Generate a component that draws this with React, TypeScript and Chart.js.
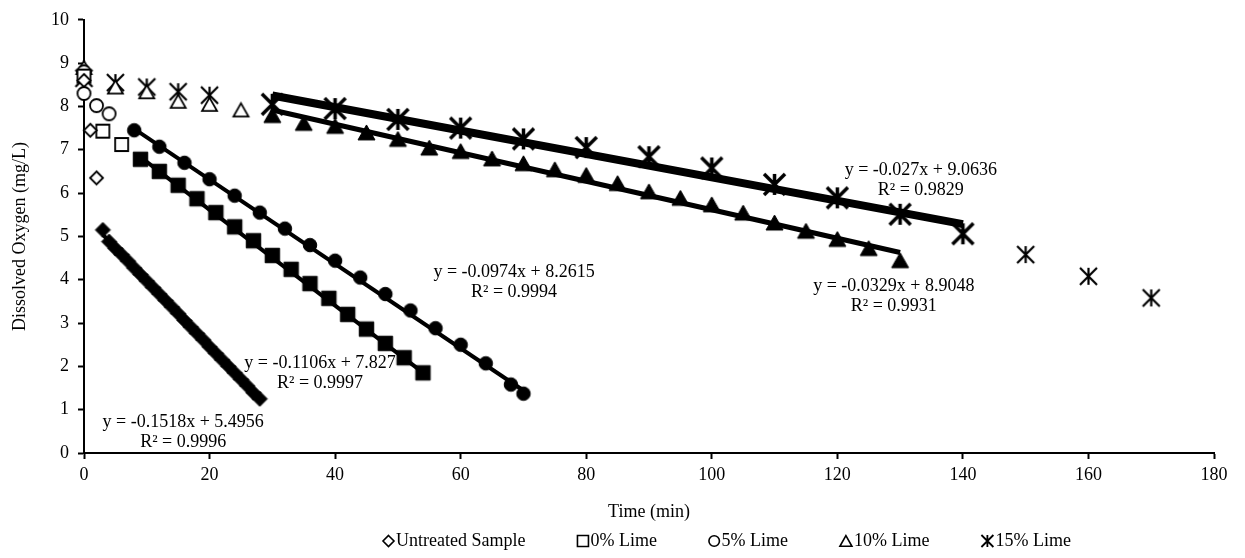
import React, { useEffect, useRef } from 'react';
import { Chart, registerables } from 'chart.js';

Chart.register(...registerables);

// ---------- data ----------
// Early readings (open markers, shown in the legend)
const untreatedOpenX = [0, 1, 2];
const untreatedOpenY = [8.6, 7.45, 6.35];
const lime0OpenX = [0, 3, 6];
const lime0OpenY = [8.7, 7.43, 7.12];
const lime5OpenX = [0, 0, 2, 4];
const lime5OpenY = [8.8, 8.3, 8.02, 7.83];
const lime10OpenX = [0, 5, 10, 15, 20, 25];
const lime10OpenY = [8.9, 8.45, 8.34, 8.12, 8.05, 7.92];
const lime15OpenX = [0, 5, 10, 15, 20, 150, 160, 170];
const lime15OpenY = [8.65, 8.55, 8.45, 8.34, 8.26, 4.58, 4.08, 3.58];

// Linear-decline readings (filled markers, fitted with trendlines)
const untreatedLinX = [3, 4, 5, 6, 7, 8, 9, 10, 11, 12, 13, 14, 15, 16, 17, 18, 19, 20, 21, 22, 23, 24, 25, 26, 27, 28];
const untreatedLinY = [5.15, 4.88, 4.72, 4.58, 4.43, 4.27, 4.12, 3.97, 3.82, 3.67, 3.52, 3.37, 3.22, 3.06, 2.91, 2.76, 2.61, 2.45, 2.3, 2.15, 2.0, 1.85, 1.7, 1.55, 1.39, 1.25];
const lime0LinX = [9, 12, 15, 18, 21, 24, 27, 30, 33, 36, 39, 42, 45, 48, 51, 54];
const lime0LinY = [6.78, 6.5, 6.18, 5.87, 5.55, 5.22, 4.9, 4.56, 4.24, 3.91, 3.57, 3.2, 2.86, 2.53, 2.2, 1.85];
const lime5LinX = [8, 12, 16, 20, 24, 28, 32, 36, 40, 44, 48, 52, 56, 60, 64, 68, 70];
const lime5LinY = [7.45, 7.07, 6.7, 6.32, 5.94, 5.55, 5.18, 4.8, 4.44, 4.05, 3.67, 3.29, 2.88, 2.5, 2.07, 1.58, 1.37];
const lime10LinX = [30, 35, 40, 45, 50, 55, 60, 65, 70, 75, 80, 85, 90, 95, 100, 105, 110, 115, 120, 125, 130];
const lime10LinY = [7.8, 7.62, 7.55, 7.4, 7.25, 7.05, 6.97, 6.8, 6.69, 6.55, 6.42, 6.23, 6.04, 5.89, 5.74, 5.55, 5.32, 5.13, 4.94, 4.73, 4.45];
const lime15LinX = [30, 40, 50, 60, 70, 80, 90, 100, 110, 120, 130, 140];
const lime15LinY = [8.05, 7.95, 7.7, 7.5, 7.25, 7.05, 6.84, 6.58, 6.2, 5.89, 5.51, 5.06];

// Trendline equations as printed on the chart
const trendSlopes = [-0.1518, -0.1106, -0.0974, -0.0329, -0.027];
const trendIntercepts = [5.4956, 7.827, 8.2615, 8.9048, 9.0636];
const trendR2 = ['0.9996', '0.9997', '0.9994', '0.9931', '0.9829'];

const seriesNames = ['Untreated Sample', '0% Lime', '5% Lime', '10% Lime', '15% Lime'];
const xTickStep = 20;
const yTickStep = 1;

// ---------- presentation ----------
const FONT_FAMILY = '"Liberation Serif", "Times New Roman", serif';
const FONT_SIZE = 18;
// where each equation label is anchored (data units)
const eqLabelAnchors = [
  { x: 15.8, y: 0.71 },
  { x: 37.6, y: 2.08 },
  { x: 68.5, y: 4.18 },
  { x: 129.0, y: 3.84 },
  { x: 133.3, y: 6.53 },
];
const trendWidths = [4, 4, 4, 5, 8];

function makeMarker(kind: string, size: number, filled: boolean, lw: number): HTMLCanvasElement {
  const pad = Math.ceil(lw) + 2;
  const dim = Math.ceil(size + pad * 2);
  const c = document.createElement('canvas');
  c.width = dim;
  c.height = dim;
  const ctx = c.getContext('2d') as CanvasRenderingContext2D;
  drawShape(ctx, kind, dim / 2, dim / 2, size, filled, lw);
  return c;
}

function drawShape(ctx: CanvasRenderingContext2D, kind: string, cx: number, cy: number, size: number, filled: boolean, lw: number) {
  const h = size / 2;
  ctx.save();
  ctx.lineWidth = lw;
  ctx.strokeStyle = '#000';
  ctx.fillStyle = filled ? '#000' : '#fff';
  ctx.lineJoin = 'miter';
  ctx.beginPath();
  if (kind === 'diamond') {
    ctx.moveTo(cx, cy - h);
    ctx.lineTo(cx + h, cy);
    ctx.lineTo(cx, cy + h);
    ctx.lineTo(cx - h, cy);
    ctx.closePath();
  } else if (kind === 'square') {
    ctx.rect(cx - h, cy - h, size, size);
  } else if (kind === 'circle') {
    ctx.arc(cx, cy, h, 0, Math.PI * 2);
  } else if (kind === 'triangle') {
    const th = size * 0.88;
    ctx.moveTo(cx, cy - th / 2);
    ctx.lineTo(cx + h, cy + th / 2);
    ctx.lineTo(cx - h, cy + th / 2);
    ctx.closePath();
  } else if (kind === 'asterisk') {
    ctx.moveTo(cx, cy - h);
    ctx.lineTo(cx, cy + h);
    ctx.moveTo(cx - h, cy - h);
    ctx.lineTo(cx + h, cy + h);
    ctx.moveTo(cx + h, cy - h);
    ctx.lineTo(cx - h, cy + h);
    ctx.stroke();
    ctx.restore();
    return;
  }
  ctx.fill();
  ctx.stroke();
  ctx.restore();
}

const kinds = ['diamond', 'square', 'circle', 'triangle', 'asterisk'];

function toPoints(xs: number[], ys: number[]) {
  return xs.map((x, i) => ({ x, y: ys[i] }));
}

export default function App() {
  const canvasRef = useRef<HTMLCanvasElement>(null);

  useEffect(() => {
    const canvas = canvasRef.current;
    if (!canvas) return;

    const openSizes = [13, 13, 13, 15, 17];
    const openLw = [1.8, 1.8, 1.8, 1.8, 2.2];
    const filledSizes = [15, 14.5, 13.5, 17, 21];
    const filledLw = [1, 1, 1, 1, 3.5];

    const openX = [untreatedOpenX, lime0OpenX, lime5OpenX, lime10OpenX, lime15OpenX];
    const openY = [untreatedOpenY, lime0OpenY, lime5OpenY, lime10OpenY, lime15OpenY];
    const linX = [untreatedLinX, lime0LinX, lime5LinX, lime10LinX, lime15LinX];
    const linY = [untreatedLinY, lime0LinY, lime5LinY, lime10LinY, lime15LinY];

    const datasets: any[] = [];
    // open markers (on top)
    kinds.forEach((k, i) => {
      datasets.push({
        label: seriesNames[i],
        data: toPoints(openX[i], openY[i]),
        pointStyle: makeMarker(k, openSizes[i], k === 'asterisk', openLw[i]),
        pointRadius: 6,
        showLine: false,
        clip: false,
        order: 0,
      });
    });
    // filled markers of linear phase
    kinds.forEach((k, i) => {
      datasets.push({
        label: seriesNames[i] + ' (linear)',
        data: toPoints(linX[i], linY[i]),
        pointStyle: makeMarker(k, filledSizes[i], true, filledLw[i]),
        pointRadius: 6,
        showLine: false,
        clip: false,
        order: 1,
      });
    });
    // trendlines from printed equations
    kinds.forEach((_k, i) => {
      const x0 = linX[i][0];
      const x1 = linX[i][linX[i].length - 1];
      datasets.push({
        label: seriesNames[i] + ' trend',
        data: [
          { x: x0, y: trendSlopes[i] * x0 + trendIntercepts[i] },
          { x: x1, y: trendSlopes[i] * x1 + trendIntercepts[i] },
        ],
        showLine: true,
        borderColor: '#000',
        borderWidth: trendWidths[i],
        pointRadius: 0,
        borderCapStyle: 'butt',
        clip: false,
        order: 2,
      });
    });

    const font = { family: FONT_FAMILY, size: FONT_SIZE };

    const annotationPlugin = {
      id: 'eqLabels',
      afterDraw(chart: any) {
        const ctx = chart.ctx as CanvasRenderingContext2D;
        const xs = chart.scales.x;
        const ys = chart.scales.y;
        ctx.save();
        ctx.font = `${FONT_SIZE}px ${FONT_FAMILY}`;
        ctx.fillStyle = '#000';
        ctx.textAlign = 'center';
        ctx.textBaseline = 'middle';
        eqLabelAnchors.forEach((a, i) => {
          const px = xs.getPixelForValue(a.x);
          const py = ys.getPixelForValue(a.y);
          const m = trendSlopes[i];
          const line1 = `y = ${m}x + ${trendIntercepts[i]}`;
          ctx.fillText(line1, px, py);
          ctx.fillText(`R² = ${trendR2[i]}`, px, py + 20);
        });

        // legend
        const legendY = 541;
        let x = 383;
        const gap = 52;
        const legendSizes = [11, 11, 10.5, 12, 12];
        kinds.forEach((k, i) => {
          const s = legendSizes[i];
          drawShape(ctx, k, x + s / 2, legendY, s, false, k === 'asterisk' ? 1.8 : 1.6);
          const tx = x + s + 2;
          ctx.fillStyle = '#000';
          ctx.textAlign = 'left';
          ctx.fillText(seriesNames[i], tx, legendY);
          x = tx + ctx.measureText(seriesNames[i]).width + gap;
        });
        ctx.restore();
      },
    };

    const chart = new Chart(canvas, {
      type: 'scatter',
      data: { datasets },
      options: {
        responsive: false,
        animation: false,
        layout: { padding: { top: 16, right: 31, left: 0, bottom: 0 } },
        plugins: {
          legend: { display: false },
          tooltip: { enabled: false },
        },
        scales: {
          x: {
            type: 'linear',
            min: 0,
            max: 180,
            afterFit: (scale: any) => {
              scale.height = 105;
            },
            ticks: { stepSize: xTickStep, color: '#000', font, padding: 5 },
            grid: { drawOnChartArea: false, drawTicks: true, tickLength: 6, tickWidth: 2, tickColor: '#000' },
            border: { display: true, color: '#000', width: 2 },
            title: {
              display: true,
              text: 'Time (min)',
              color: '#000',
              font,
              padding: { top: 0, bottom: 35 },
            },
          },
          y: {
            type: 'linear',
            min: 0,
            max: 10,
            afterFit: (scale: any) => {
              scale.width = 84;
            },
            ticks: { stepSize: yTickStep, color: '#000', font, padding: 9 },
            grid: { drawOnChartArea: false, drawTicks: true, tickLength: 6, tickWidth: 2, tickColor: '#000' },
            border: { display: true, color: '#000', width: 2 },
            title: {
              display: true,
              text: 'Dissolved Oxygen (mg/L)',
              color: '#000',
              font,
              padding: { top: 9, bottom: 0 },
            },
          },
        },
      } as any,
      plugins: [annotationPlugin],
    });

    return () => chart.destroy();
  }, []);

  return (
    <div style={{ position: 'fixed', left: 0, top: 0, width: 1245, height: 558, background: '#fff' }}>
      <canvas ref={canvasRef} width={1245} height={558} style={{ width: 1245, height: 558, display: 'block' }} />
    </div>
  );
}
